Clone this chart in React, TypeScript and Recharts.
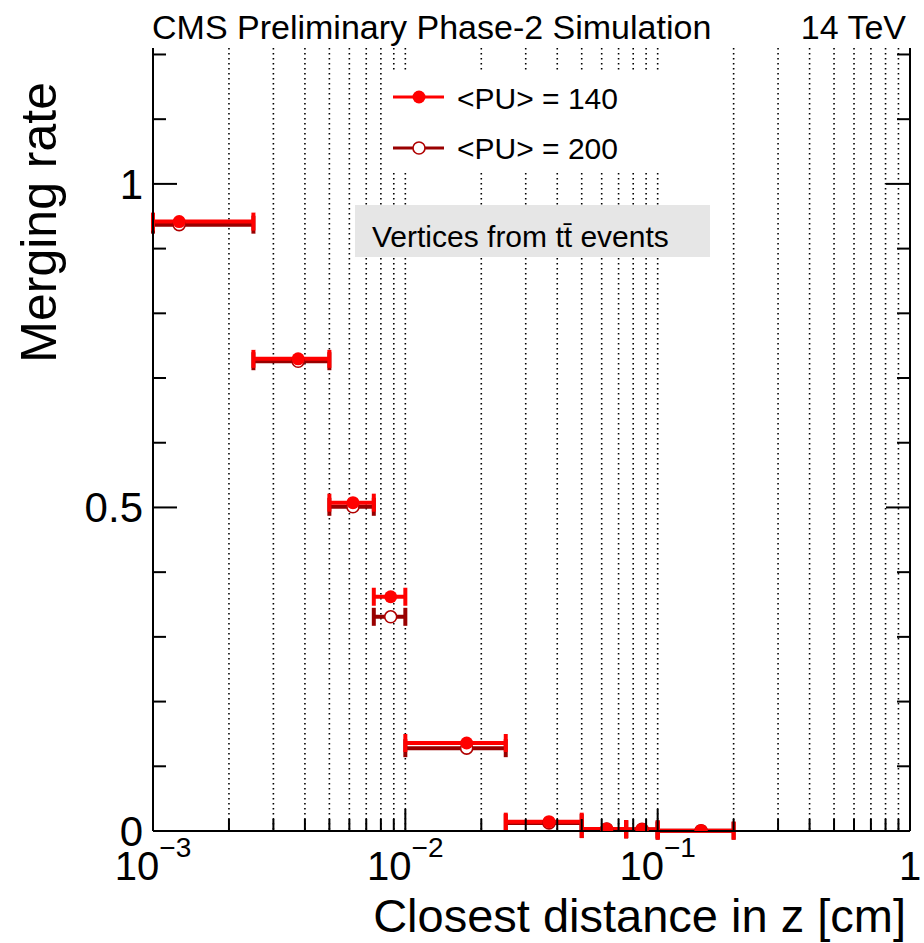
import React from 'react';
import { ComposedChart, Scatter, ErrorBar, XAxis, YAxis, CartesianGrid, Customized } from 'recharts';

// ---- data ----
const binLow = [0.001, 0.0025, 0.005, 0.0075, 0.01, 0.025, 0.05, 0.075, 0.1];
const binHigh = [0.0025, 0.005, 0.0075, 0.01, 0.025, 0.05, 0.075, 0.1, 0.2];
const xCenter = [0.00127, 0.00376, 0.0062, 0.00875, 0.0175, 0.0371, 0.0628, 0.0867, 0.1486];
const pu140 = [0.9417, 0.7296, 0.5074, 0.362, 0.136, 0.0144, 0.003, 0.0025, 0.0005];
const pu200 = [0.937, 0.726, 0.501, 0.331, 0.128, 0.0125, 0.003, 0.0025, 0.0005];

const xMajorTicks = [0.001, 0.01, 0.1, 1];
const xMinorTicks = [
  0.002, 0.003, 0.004, 0.005, 0.006, 0.007, 0.008, 0.009,
  0.02, 0.03, 0.04, 0.05, 0.06, 0.07, 0.08, 0.09,
  0.2, 0.3, 0.4, 0.5, 0.6, 0.7, 0.8, 0.9,
];
const xTickLabels = ['10', '10', '10', '1'];
const xTickExponents = ['−3', '−2', '−1', ''];
const yMajorTicks = [0, 0.5, 1];
const yTickLabels = ['0', '0.5', '1'];
const yMinorTicks = [0.1, 0.2, 0.3, 0.4, 0.6, 0.7, 0.8, 0.9, 1.1, 1.2];
const yMax = 1.21;

const seriesNames = ['<PU> = 140', '<PU> = 200'];
const titleLeft = 'CMS Preliminary Phase-2 Simulation';
const titleRight = '14 TeV';
const xTitle = 'Closest distance in z [cm]';
const yTitle = 'Merging rate';

const makeData = (vals: number[]) =>
  xCenter.map((x, i) => ({ x, y: vals[i], xErr: [x - binLow[i], binHigh[i] - x] }));
const data140 = makeData(pu140);
const data200 = makeData(pu200);

const xTicksAll = [...xMajorTicks, ...xMinorTicks].sort((a, b) => a - b);
const yTicksAll = [...yMajorTicks, ...yMinorTicks].sort((a, b) => a - b);

const FONT = "'Liberation Sans', Arial, Helvetica, sans-serif";
const RED = '#ff0000';
const DARK = '#990000';

const isXMajor = (v: number) => xMajorTicks.some((m) => Math.abs(m - v) / m < 1e-6);
const isYMajor = (v: number) => yMajorTicks.some((m) => Math.abs(m - v) < 1e-6);

const XTickBottom = (props: any) => {
  const { x, y, payload } = props;
  const v = payload.value;
  const major = isXMajor(v);
  const len = major ? 22 : 12;
  const idx = xMajorTicks.findIndex((m) => Math.abs(m - v) / m < 1e-6);
  return (
    <g>
      <line x1={x} x2={x} y1={y} y2={y - len} stroke="#000" strokeWidth={2} />
      {idx >= 0 && (
        <text x={x} y={y + 49} textAnchor="middle" fontFamily={FONT} fontSize={40} fill="#000">
          <tspan>{xTickLabels[idx]}</tspan>
          {xTickExponents[idx] && (
            <tspan dy={-23} fontSize={28}>{xTickExponents[idx]}</tspan>
          )}
        </text>
      )}
    </g>
  );
};

const XTickTop = (props: any) => {
  const { x, y, payload } = props;
  const len = isXMajor(payload.value) ? 22 : 12;
  return <line x1={x} x2={x} y1={y} y2={y + len} stroke="#000" strokeWidth={2} />;
};

const YTickLeft = (props: any) => {
  const { x, y, payload } = props;
  const v = payload.value;
  const major = isYMajor(v);
  const len = major ? 24 : 13;
  const idx = yMajorTicks.findIndex((m) => Math.abs(m - v) < 1e-6);
  return (
    <g>
      <line x1={x} x2={x + len} y1={y} y2={y} stroke="#000" strokeWidth={2} />
      {idx >= 0 && (
        <text x={x - 10} y={y + 15} textAnchor="end" fontFamily={FONT} fontSize={42} fill="#000">
          {yTickLabels[idx]}
        </text>
      )}
    </g>
  );
};

const YTickRight = (props: any) => {
  const { x, y, payload } = props;
  const len = isYMajor(payload.value) ? 24 : 13;
  return <line x1={x} x2={x - len} y1={y} y2={y} stroke="#000" strokeWidth={2} />;
};

const FilledMarker = (p: any) => <circle cx={p.cx} cy={p.cy} r={6.5} fill={RED} />;
const OpenMarker = (p: any) => (
  <circle cx={p.cx} cy={p.cy} r={6} fill="#fff" stroke="#b00000" strokeWidth={1.6} />
);

const Overlay = () => (
  <g>
    {/* legend */}
    <rect x={390} y={72} width={330} height={100} fill="#fff" />
    <line x1={393} x2={444} y1={97} y2={97} stroke={RED} strokeWidth={3} />
    <circle cx={419} cy={97} r={6.5} fill={RED} />
    <text x={457} y={109} fontFamily={FONT} fontSize={30} fill="#000">{seriesNames[0]}</text>
    <line x1={393} x2={444} y1={148} y2={148} stroke={DARK} strokeWidth={3} />
    <circle cx={419} cy={148} r={6} fill="#fff" stroke="#b00000" strokeWidth={1.6} />
    <text x={457} y={159} fontFamily={FONT} fontSize={30} fill="#000">{seriesNames[1]}</text>
    {/* label box */}
    <rect x={355} y={205} width={355} height={52} fill="#e6e6e6" />
    <text x={372} y={247} fontFamily={FONT} fontSize={30} fill="#000">
      Vertices from t<tspan>t&#772;</tspan> events
    </text>
    {/* titles */}
    <text x={152} y={39} fontFamily={FONT} fontSize={34} fill="#000">{titleLeft}</text>
    <text x={906} y={39} textAnchor="end" fontFamily={FONT} fontSize={34} fill="#000">{titleRight}</text>
    <text x={906} y={932} textAnchor="end" fontFamily={FONT} fontSize={47} fill="#000">{xTitle}</text>
    <text
      x={56}
      y={82}
      textAnchor="end"
      transform="rotate(-90 56 82)"
      fontFamily={FONT}
      fontSize={50}
      fill="#000"
    >
      {yTitle}
    </text>
  </g>
);

export default function App() {
  return (
    <div style={{ position: 'absolute', left: 0, top: 0, background: '#fff' }}>
      <ComposedChart width={924} height={943} margin={{ top: 48, right: 0, bottom: 0, left: 0 }}>
        <CartesianGrid
          horizontal={false}
          vertical
          stroke="#000"
          strokeWidth={1.6}
          strokeDasharray="1.6 3.4"
        />
        <XAxis
          dataKey="x"
          type="number"
          scale="log"
          domain={[0.001, 1]}
          allowDataOverflow
          ticks={xTicksAll}
          interval={0}
          tick={<XTickBottom />}
          tickLine={false}
          tickSize={0}
          tickMargin={0}
          height={112}
          axisLine={{ stroke: '#000', strokeWidth: 2 }}
        />
        <XAxis
          xAxisId="top"
          orientation="top"
          type="number"
          scale="log"
          domain={[0.001, 1]}
          allowDataOverflow
          ticks={xTicksAll}
          interval={0}
          tick={<XTickTop />}
          tickLine={false}
          tickSize={0}
          tickMargin={0}
          height={0}
          axisLine={{ stroke: '#000', strokeWidth: 2 }}
        />
        <YAxis
          dataKey="y"
          type="number"
          domain={[0, yMax]}
          allowDataOverflow
          ticks={yTicksAll}
          interval={0}
          tick={<YTickLeft />}
          tickLine={false}
          tickSize={0}
          tickMargin={0}
          width={153}
          axisLine={{ stroke: '#000', strokeWidth: 2 }}
        />
        <YAxis
          yAxisId="right"
          orientation="right"
          type="number"
          domain={[0, yMax]}
          allowDataOverflow
          ticks={yTicksAll}
          interval={0}
          tick={<YTickRight />}
          tickLine={false}
          tickSize={0}
          tickMargin={0}
          width={14}
          axisLine={{ stroke: '#000', strokeWidth: 2 }}
        />
        <Customized component={Overlay} />
        <Scatter data={data200} dataKey="y" shape={OpenMarker} isAnimationActive={false}>
          <ErrorBar dataKey="xErr" direction="x" width={9} strokeWidth={4} stroke={DARK} isAnimationActive={false} />
        </Scatter>
        <Scatter data={data140} dataKey="y" shape={FilledMarker} isAnimationActive={false}>
          <ErrorBar dataKey="xErr" direction="x" width={9} strokeWidth={4} stroke={RED} isAnimationActive={false} />
        </Scatter>
      </ComposedChart>
    </div>
  );
}
